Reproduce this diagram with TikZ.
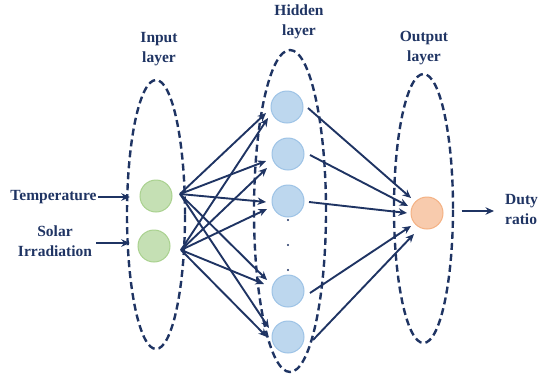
\documentclass[tikz,border=0pt]{standalone}
\usepackage{fontspec}
\setmainfont{Liberation Serif}
\usetikzlibrary{arrows.meta,calc,shapes.geometric}

\definecolor{navy}{RGB}{31,52,99}
\definecolor{inFill}{RGB}{197,224,180}
\definecolor{inLine}{RGB}{169,209,142}
\definecolor{hidFill}{RGB}{189,215,238}
\definecolor{hidLine}{RGB}{157,195,230}
\definecolor{outFill}{RGB}{248,203,173}
\definecolor{outLine}{RGB}{244,177,131}

\tikzset{
  label/.style={text=navy, font=\fontsize{15.5}{20}\selectfont\bfseries, align=center, inner sep=1pt},
  layerring/.style={ellipse, draw=navy, line width=2.4pt, dash pattern=on 7pt off 4pt, inner sep=0pt},
  neuron/.style={circle, line width=1pt, minimum size=32pt, inner sep=0pt},
  inneuron/.style={neuron, fill=inFill, draw=inLine},
  hidneuron/.style={neuron, fill=hidFill, draw=hidLine},
  outneuron/.style={neuron, fill=outFill, draw=outLine},
  link/.style={draw=navy, line width=1.9pt, -{Stealth[length=8.5pt,width=7.5pt]}},
  gapdot/.style={circle, fill=navy, inner sep=0pt, minimum size=2.2pt}
}

\begin{document}
\begin{tikzpicture}[x=1pt,y=-1pt]
\useasboundingbox (0,0) rectangle (538,376);

% dashed rings around the three layers
\node[layerring, minimum width=58pt, minimum height=269pt] (inring) at (156,214.5) {};
\node[layerring, minimum width=72pt, minimum height=322pt] (hidring) at (290,211) {};
\node[layerring, minimum width=59pt, minimum height=269pt] (outring) at (423.5,208.5) {};

% layer titles
\node[label] (intitle) at (159,49) {Input\\layer};
\node[label] (hidtitle) at (299,22) {Hidden\\layer};
\node[label] (outtitle) at (424,48) {Output\\layer};

% neurons
\node[inneuron] (t) at (156,196) {};
\node[inneuron] (s) at (154,246) {};

\node[hidneuron] (h1) at (287,107) {};
\node[hidneuron] (h2) at (288,154) {};
\node[hidneuron] (h3) at (288,201) {};
\node[hidneuron] (h4) at (288,291) {};
\node[hidneuron] (h5) at (288,337) {};

\node[gapdot] (d1) at (288,220) {};
\node[gapdot] (d2) at (288,245) {};
\node[gapdot] (d3) at (288,270) {};

\node[outneuron] (out) at (427,213) {};

% inputs and output labels
\node[label] (tlabel) at (53.5,197) {Temperature};
\node[label] (slabel) at (55,241.5) {Solar\\Irradiation};
\node[label, anchor=west, align=left] (duty) at (504,209.5) {Duty\\ratio};

\draw[link] (tlabel.east) -- ($(tlabel.east -| inring.west)+(4,0)$);
\draw[link] ($(slabel.east)+(3,1.5)$) -- ($(slabel.east -| inring.west)+(4,1.5)$);
\draw[link] ($(out.east)+(18,-2)$) -- ($(duty.west)+(-10,1.5)$);

% input -> hidden connections
\coordinate (ts) at ($(t)+(24,-2)$);
\coordinate (ss) at ($(s)+(27,4)$);

\draw[link] (ts) -- ($(h1)+(-21,6)$);
\draw[link] (ss) -- ($(h1)+(-19,11)$);
\draw[link] (ts) -- ($(h2)+(-22,7)$);
\draw[link] (ss) -- ($(h2)+(-21,14)$);
\draw[link] (ts) -- ($(h3)+(-22,1)$);
\draw[link] (ss) -- ($(h3)+(-21,8)$);
\draw[link] (ts) -- ($(h4)+(-21,-11)$);
\draw[link] (ss) -- ($(h4)+(-24,-7)$);
\draw[link] (ts) -- ($(h5)+(-19,-9)$);
\draw[link] (ss) -- ($(h5)+(-21,0)$);

% hidden -> output connections
\draw[link] ($(h1)+(21,1)$) -- ($(out)+(-16,-15)$);
\draw[link] ($(h2)+(22,1)$) -- ($(out)+(-19,-7)$);
\draw[link] ($(h3)+(21,1)$) -- ($(out)+(-20,0)$);
\draw[link] ($(h4)+(22,2)$) -- ($(out)+(-16,13)$);
\draw[link] ($(h5)+(25,3)$) -- ($(out)+(-13,21)$);
\end{tikzpicture}
\end{document}
